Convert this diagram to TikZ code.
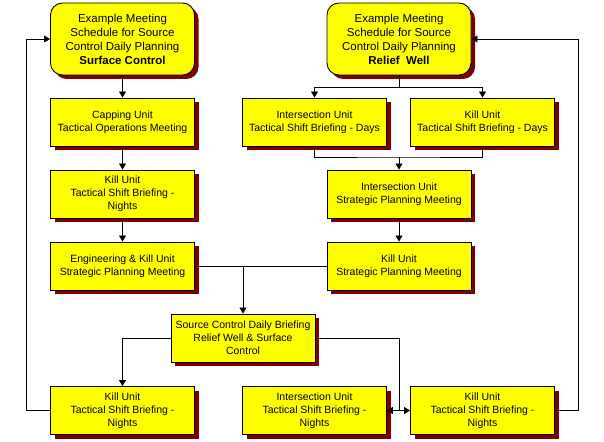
\documentclass[tikz,border=0pt]{standalone}
\usepackage{fontspec}
\setmainfont{Liberation Sans}
\usetikzlibrary{arrows.meta,shadows}
\definecolor{boxyellow}{RGB}{255,255,0}
\definecolor{shadowred}{RGB}{128,0,0}
\tikzset{
  meeting/.style={draw, line width=0.9pt, fill=boxyellow, align=center,
    minimum width=144pt, minimum height=48pt, inner sep=1pt,
    font=\fontsize{10.5}{13}\selectfont,
    drop shadow={shadow xshift=4pt, shadow yshift=-4pt, fill=shadowred, opacity=1}},
  schedule/.style={meeting, rounded corners=12pt, minimum height=72pt,
    font=\fontsize{11.5}{14}\selectfont},
  arr/.style={-{Triangle[width=7pt,length=6pt]}, line width=0.8pt},
  link/.style={line width=0.8pt}
}
\begin{document}
\begin{tikzpicture}[x=1pt,y=-1pt]
        \useasboundingbox (0,0) rectangle (604,441);

        \node[schedule] (sctitle) at (122.5,39) {Example Meeting\\Schedule for Source\\Control Daily Planning\\\textbf{Surface Control}};
        \node[schedule] (rwtitle) at (399,39) {Example Meeting\\Schedule for Source\\Control Daily Planning\\\textbf{Relief~~Well}};

        \node[meeting] (capping) at (122.5,122) {Capping Unit\\Tactical Operations Meeting};
        \node[meeting] (isdays) at (314.5,122) {Intersection Unit\\Tactical Shift Briefing - Days};
        \node[meeting] (killdays) at (482.5,122) {Kill Unit\\Tactical Shift Briefing - Days};

        \node[meeting] (killnight) at (122.5,194) {Kill Unit\\Tactical Shift Briefing -\\Nights};
        \node[meeting] (isstrat) at (399,194) {Intersection Unit\\Strategic Planning Meeting};

        \node[meeting] (engkill) at (122.5,266) {Engineering \& Kill Unit\\Strategic Planning Meeting};
        \node[meeting] (killstrat) at (399,266) {Kill Unit\\Strategic Planning Meeting};

        \node[meeting] (scbrief) at (243,338) {Source Control Daily Briefing\\Relief Well \& Surface\\Control};

        \node[meeting] (killbotl) at (122.5,410.5) {Kill Unit\\Tactical Shift Briefing -\\Nights};
        \node[meeting] (isnight) at (314.5,410.5) {Intersection Unit\\Tactical Shift Briefing -\\Nights};
        \node[meeting] (killbotr) at (482.5,410.5) {Kill Unit\\Tactical Shift Briefing -\\Nights};

        \draw[arr] (sctitle) -- (capping);
        \draw[arr] (capping) -- (killnight);
        \draw[arr] (killnight) -- (engkill);

        \coordinate (rwsplit) at (399,87);
        \draw[link] (rwtitle) -- (rwsplit);
        \draw[arr] (rwsplit) -| (isdays);
        \draw[arr] (rwsplit) -| (killdays);

        \coordinate (daysjoin) at (399,157);
        \draw[link] (isdays) |- (daysjoin) -| (killdays);
        \draw[arr] (daysjoin) -- (isstrat);
        \draw[arr] (isstrat) -- (killstrat);

        \draw[link] (engkill) -- (killstrat);
        \coordinate (stratjoin) at (scbrief.north |- engkill.east);
        \draw[arr] (stratjoin) -- (scbrief);

        \draw[arr] (scbrief.west) -| (killbotl.north);
        \coordinate (nightjoin) at (399,410.5);
        \draw[link] (scbrief.east) -| (nightjoin);
        \draw[arr] (nightjoin) -- (isnight.east);
        \draw[arr] (nightjoin) -- (killbotr.west);

        \draw[arr] (killbotl.west) -- ++(-24,0) |- (sctitle.west);
        \draw[arr] (killbotr.east) -- ++(23,0) |- (rwtitle.east);
    \end{tikzpicture}
\end{document}
